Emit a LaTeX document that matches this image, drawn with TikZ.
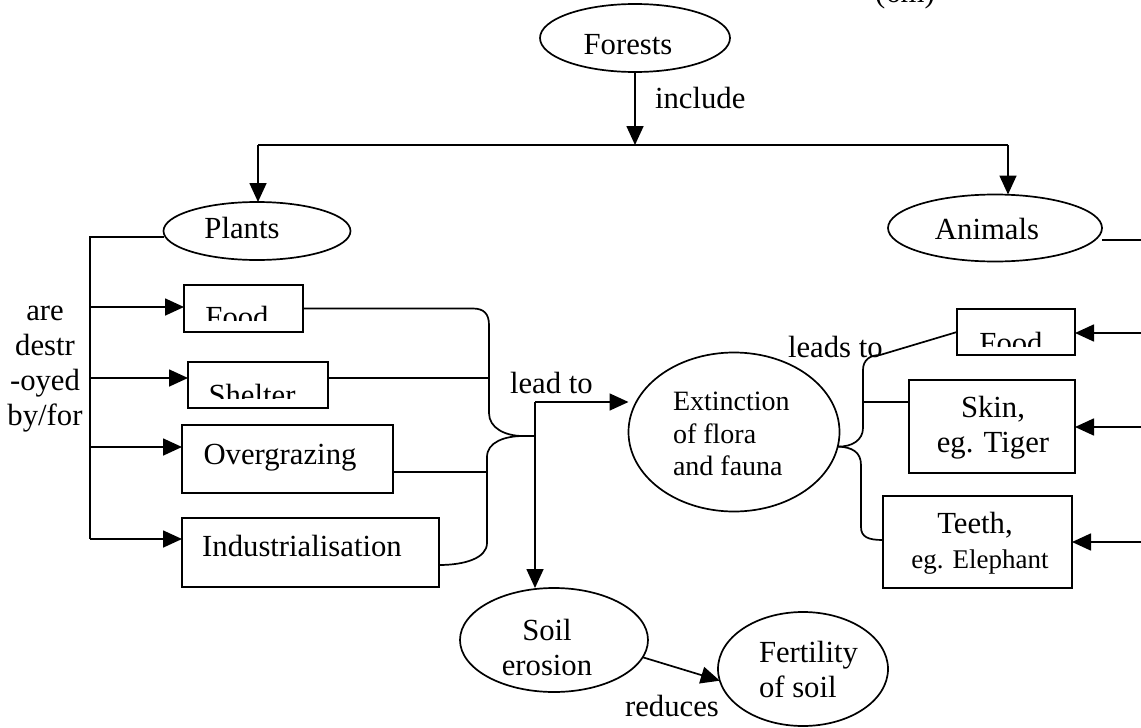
\documentclass[tikz,border=0pt]{standalone}
\usepackage{fontspec}
\setmainfont{Liberation Serif}
\usetikzlibrary{arrows.meta,shapes.geometric}

\begin{document}
\begin{tikzpicture}[x=1pt,y=-1pt,line width=1.7pt,
  every node/.style={inner sep=0pt,outer sep=0pt,font=\fontsize{30.7}{35}\selectfont},
  oval/.style={draw,ellipse},
  box/.style={draw,rectangle},
  txt/.style={anchor=base},
  small/.style={font=\fontsize{28}{32}\selectfont},
  arr/.style={-{Triangle[length=19pt,width=17pt]}}]

\path[use as bounding box,clip] (0,0) rectangle (1141,728);

% ---------- shapes ----------
\node[oval,minimum width=190pt,minimum height=68pt] (forests) at (635,38) {};
\node[oval,minimum width=187pt,minimum height=58pt] (plants) at (257,231) {};
\node[oval,minimum width=214pt,minimum height=67pt] (animals) at (995,228) {};
\node[oval,minimum width=211pt,minimum height=159pt] (ext) at (734,432) {};
\node[oval,minimum width=188pt,minimum height=104pt] (soil) at (554,640) {};
\node[oval,minimum width=170pt,minimum height=114pt] (fert) at (803,669) {};

\node[box,minimum width=119pt,minimum height=47pt] (pfood) at (243.5,308.5) {};
\node[box,minimum width=140pt,minimum height=46pt] (pshelter) at (258,385) {};
\node[box,minimum width=211pt,minimum height=68pt] (over) at (287.5,459) {};
\node[box,minimum width=257pt,minimum height=69pt] (indus) at (310.5,552.5) {};
\node[box,minimum width=118pt,minimum height=46pt] (afood) at (1016,332) {};
\node[box,minimum width=166pt,minimum height=93pt] (skin) at (992,426.5) {};
\node[box,minimum width=189pt,minimum height=92pt] (teeth) at (977.5,542) {};

% ---------- texts ----------
\node[txt] (marks) at (905,2.5) {(6m)};
\node[txt] (t-forests) at (628,54) {Forests};
\node[txt,anchor=base west] (t-include) at (655,108) {include};
\node[txt] (t-plants) at (242,238) {Plants};
\node[txt] (t-animals) at (987,239) {Animals};

\node[txt] (t-are) at (45,320) {are};
\node[txt] (t-destr) at (45,355) {destr};
\node[txt] (t-oyed) at (45,390) {-oyed};
\node[txt] (t-byfor) at (45,425) {by/for};

\begin{scope}
  \clip (pfood.north west) rectangle ([yshift=12pt]pfood.south east);
  \node[txt] (t-pfood) at (237,327) {Food};
\end{scope}
\begin{scope}
  \clip (pshelter.north west) rectangle ([yshift=10pt]pshelter.south east);
  \node[txt] (t-pshelter) at (252,405) {Shelter};
\end{scope}
\node[txt] (t-over) at (280,464) {Overgrazing};
\node[txt] (t-indus) at (302,556) {Industrialisation};

\node[txt,anchor=base west] (t-leadto) at (510,393) {lead to};
\node[txt,anchor=base west] (t-leadsto) at (788,357) {leads to};

\node[txt,anchor=base west,small] (t-ext1) at (673,410) {Extinction};
\node[txt,anchor=base west,small] (t-ext2) at (673,443) {of flora};
\node[txt,anchor=base west,small] (t-ext3) at (673,475) {and fauna};

\begin{scope}
  \clip (afood.north west) rectangle ([yshift=9pt]afood.south east);
  \node[txt] (t-afood) at (1011,353) {Food};
\end{scope}
\node[txt] (t-skin1) at (993,417) {Skin,};
\node[txt] (t-skin2) at (993,452) {eg. Tiger};
\node[txt] (t-teeth1) at (975,533) {Teeth,};
\node[txt,font=\fontsize{27}{32}\selectfont] (t-teeth2) at (980,568) {eg. Elephant};

\node[txt] (t-soil1) at (547,640) {Soil};
\node[txt] (t-soil2) at (547,675) {erosion};
\node[txt,anchor=base west] (t-fert1) at (759,662) {Fertility};
\node[txt,anchor=base west] (t-fert2) at (759,697) {of soil};
\node[txt] (t-reduces) at (672,716) {reduces};

% ---------- top branching ----------
\coordinate (tj) at (635,145);
\coordinate (tl) at (258,145);
\coordinate (tr) at (1008,145);
\draw[arr] (forests.south) -- (tj);
\draw (tl) -- (tr);
\draw[arr] (tl) -- (tl |- plants.north);
\draw[arr] (tr) -- (tr |- animals.north);
\coordinate (ae) at (1141,240);
\draw (animals.east |- ae) -- (ae);

% ---------- plants spine ----------
\coordinate (sp0) at (90,237);
\coordinate (sp1) at (90,307);
\coordinate (sp2) at (90,378);
\coordinate (sp3) at (90,447);
\coordinate (sp4) at (90,539);
\draw (plants.west |- sp0) -- (sp0) -- (sp4);
\draw[arr] (sp1) -- (sp1 -| pfood.west);
\draw[arr] (sp2) -- (sp2 -| pshelter.west);
\draw[arr] (sp3) -- (sp3 -| over.west);
\draw[arr] (sp4) -- (sp4 -| indus.west);

% ---------- left brace ----------
\coordinate (lj) at (523,436);
\coordinate (lk) at (535,436);
\coordinate (ls) at (489,378);
\coordinate (lo) at (487,472);
\coordinate (li) at (470,565);
\draw (pfood.east) -- (473,308.5) .. controls (484,308.5) and (489,314) .. (489,325)
      -- (489,413) .. controls (489,428) and (505,436) .. (lj);
\draw (lj) .. controls (505,436) and (487,442) .. (487,457)
      -- (487,543) .. controls (487,558) and (465,565) .. (li -| indus.east);
\draw (ls -| pshelter.east) -- (ls);
\draw (lo -| over.east) -- (lo);
\draw (lj) -- (lk);
\coordinate (lt) at (535,402);
\draw[arr] (lt) -- (lt -| ext.west);
\draw[arr] (lt) -- (lt |- soil.north);

% ---------- soil to fertility ----------
\draw[arr] (soil.-11) -- (fert.188);

% ---------- right brace ----------
\coordinate (rj) at (ext.-8);
\coordinate (rs) at (863,402);
\coordinate (rt) at (870,540);
\draw (rj) .. controls (852,447) and (863,440) .. (863,428) -- (863,370)
      .. controls (863,360) and (870,355) .. (880,355) -- (afood.west);
\draw (rs) -- (rs -| skin.west);
\draw (rj) .. controls (852,447) and (861,452) .. (861,465) -- (861,527)
      .. controls (861,537) and (868,540) .. (rt -| teeth.west);

% ---------- arrows from the right margin ----------
\coordinate (ra1) at (1141,333);
\coordinate (ra2) at (1141,427);
\coordinate (ra3) at (1141,542);
\draw[arr] (ra1) -- (ra1 -| afood.east);
\draw[arr] (ra2) -- (ra2 -| skin.east);
\draw[arr] (ra3) -- (ra3 -| teeth.east);

\end{tikzpicture}
\end{document}
